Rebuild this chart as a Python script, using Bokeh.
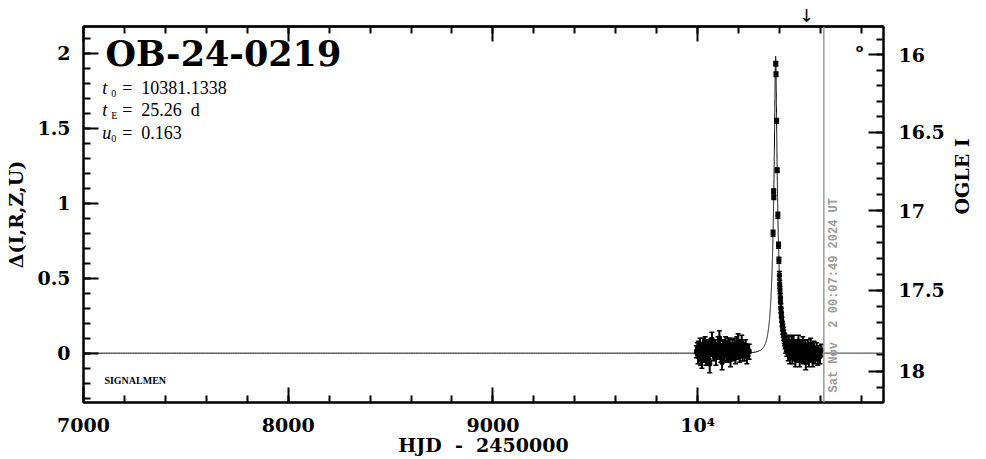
import numpy as np
from bokeh.plotting import figure
from bokeh.models import (Range1d, LinearAxis, FixedTicker, Label, Span,
                          ColumnDataSource, Whisker, TeeHead)
from bokeh.embed import file_html
from bokeh.resources import INLINE

# ---------------- event parameters / annotations ----------------
event_name = "OB-24-0219"
t0 = 10381.1338
tE = 25.26
u0 = 0.163
now_hjd = 10616.505
now_text = "Sat Nov\u00a0\u00a02 00:07:49 2024 UT"
arrow_hjd = 10532.0

# ---------------- tick labels ----------------
x_major = [7000, 8000, 9000, 10000]
x_major_labels = ["7000", "8000", "9000", "10\u2074"]
y_major = [0, 0.5, 1, 1.5, 2]
y_major_labels = ["0", "0.5", "1", "1.5", "2"]
mag_major = [16, 16.5, 17, 17.5, 18]
mag_major_labels = ["16", "16.5", "17", "17.5", "18"]

# ---------------- photometry (HJD-2450000, delta, error) ----------------
t_2023 = [9994.8, 9998.7, 10001.9, 10004.6, 10008.8, 10011.7, 10014.5, 10017.9, 10021.0, 10023.6,
          10026.8, 10030.9, 10033.5, 10036.7, 10040.6, 10043.8, 10046.5, 10049.9, 10053.6, 10056.4,
          10059.2, 10062.8, 10066.5, 10069.9, 10072.7, 10076.4, 10079.8, 10083.5, 10086.6, 10089.4,
          10092.8, 10096.7, 10099.5, 10103.6, 10106.4, 10109.8, 10113.5, 10116.7, 10119.4, 10122.9,
          10126.6, 10129.8, 10133.5, 10136.4, 10139.9, 10143.6, 10146.5, 10149.8, 10153.4, 10156.7,
          10160.6, 10163.5, 10166.9, 10170.4, 10173.8, 10177.5, 10180.6, 10184.9, 10188.5, 10191.7,
          10195.6, 10197.4, 10201.8, 10205.5, 10209.7, 10213.6, 10215.4, 10219.8, 10224.5, 10229.6,
          10234.8, 10240.5, 10246.7, 10251.9]
d_2023 = [0.01, 0.03, -0.02, 0.04, 0.00, 0.05, -0.04, 0.02, -0.05, 0.03,
          0.06, -0.01, 0.02, 0.07, -0.03, 0.01, 0.04, -0.02, 0.05, 0.00,
          -0.07, 0.03, 0.06, 0.09, 0.02, -0.01, 0.04, 0.01, 0.05, -0.03,
          0.03, 0.00, 0.06, 0.02, 0.10, 0.04, -0.02, 0.01, -0.06, 0.05,
          0.02, -0.01, 0.04, 0.07, 0.00, 0.03, -0.02, 0.05, 0.01, 0.06,
          -0.04, 0.02, 0.00, 0.04, -0.01, 0.03, 0.05, -0.03, 0.02, 0.06,
          0.00, 0.08, 0.03, -0.02, 0.04, 0.01, 0.07, -0.01, 0.03, 0.00,
          0.05, -0.02, 0.02, 0.01]
e_2023 = [0.04, 0.04, 0.05, 0.04, 0.04, 0.05, 0.04, 0.04, 0.05, 0.04,
          0.04, 0.05, 0.04, 0.04, 0.05, 0.04, 0.04, 0.05, 0.04, 0.04,
          0.06, 0.04, 0.04, 0.05, 0.04, 0.04, 0.05, 0.04, 0.04, 0.05,
          0.04, 0.04, 0.05, 0.04, 0.05, 0.04, 0.04, 0.05, 0.05, 0.04,
          0.04, 0.05, 0.04, 0.04, 0.05, 0.04, 0.04, 0.05, 0.04, 0.04,
          0.05, 0.04, 0.04, 0.05, 0.04, 0.04, 0.05, 0.04, 0.04, 0.05,
          0.04, 0.05, 0.04, 0.04, 0.05, 0.04, 0.05, 0.04, 0.04, 0.05,
          0.04, 0.05, 0.04, 0.05]

t_2024_peak = [10368.5, 10371.6, 10372.2, 10381.9, 10383.0, 10385.8, 10388.6, 10392.0, 10395.1, 10397.1,
               10399.4, 10401.2, 10402.3, 10404.0, 10405.2, 10406.8, 10408.4, 10410.0, 10412.1, 10414.0,
               10416.2, 10418.3, 10420.8, 10423.0, 10425.5]
d_2024_peak = [0.80, 1.08, 1.04, 1.93, 1.86, 1.55, 1.22, 0.92, 0.72, 0.62,
               0.52, 0.46, 0.42, 0.37, 0.34, 0.30, 0.27, 0.24, 0.21, 0.18,
               0.16, 0.14, 0.12, 0.10, 0.09]
e_2024_peak = [0.02, 0.015, 0.015, 0.015, 0.015, 0.015, 0.015, 0.02, 0.02, 0.02,
               0.025, 0.025, 0.025, 0.03, 0.03, 0.03, 0.03, 0.03, 0.03, 0.03,
               0.035, 0.035, 0.035, 0.035, 0.04]

t_2024_base = [10427.8, 10430.6, 10432.9, 10435.7, 10438.5, 10441.8, 10444.6, 10447.4, 10450.8, 10453.5,
               10456.7, 10459.6, 10462.5, 10465.8, 10468.4, 10471.7, 10474.5, 10477.6, 10480.4, 10483.8,
               10486.5, 10489.7, 10492.4, 10495.6, 10498.5, 10501.7, 10504.4, 10507.6, 10510.5, 10513.7,
               10516.4, 10519.6, 10522.5, 10525.7, 10528.4, 10531.6, 10534.5, 10537.7, 10540.4, 10543.6,
               10546.5, 10549.7, 10552.4, 10555.6, 10558.5, 10561.7, 10564.4, 10568.6, 10572.5, 10576.7,
               10581.4, 10586.6, 10591.5, 10597.7, 10604.6]
d_2024_base = [0.07, 0.04, 0.06, 0.02, 0.05, 0.00, 0.08, 0.03, -0.02, 0.05,
               0.01, 0.06, -0.03, 0.03, 0.07, 0.00, 0.04, -0.04, 0.02, 0.05,
               -0.01, 0.03, 0.08, 0.00, -0.05, 0.02, 0.04, -0.02, 0.01, 0.06,
               -0.03, 0.03, 0.00, 0.05, -0.06, 0.02, -0.01, 0.04, 0.01, -0.04,
               0.03, 0.00, 0.06, -0.02, 0.02, -0.05, 0.01, 0.03, -0.03, 0.00,
               0.02, -0.04, 0.01, -0.02, 0.02]
e_2024_base = [0.04, 0.04, 0.05, 0.04, 0.04, 0.05, 0.04, 0.04, 0.05, 0.04,
               0.04, 0.05, 0.04, 0.04, 0.05, 0.04, 0.04, 0.05, 0.04, 0.04,
               0.05, 0.04, 0.04, 0.05, 0.04, 0.04, 0.05, 0.04, 0.04, 0.05,
               0.04, 0.04, 0.05, 0.04, 0.05, 0.04, 0.04, 0.05, 0.04, 0.05,
               0.04, 0.05, 0.04, 0.04, 0.05, 0.04, 0.04, 0.05, 0.04, 0.04,
               0.05, 0.04, 0.04, 0.05, 0.04]

t_all = np.array(t_2023 + t_2024_peak + t_2024_base)
d_all = np.array(d_2023 + d_2024_peak + d_2024_base)
e_all = np.array(e_2023 + e_2024_peak + e_2024_base)
assert len(t_all) == len(d_all) == len(e_all)

# ---------------- point-lens model from the fitted parameters ----------------
t_model = np.concatenate([np.linspace(7000, 10300, 400),
                          np.linspace(10300, 10470, 3000),
                          np.linspace(10470, 10908, 300)])
uu = np.sqrt(u0 ** 2 + ((t_model - t0) / tE) ** 2)
A = (uu ** 2 + 2) / (uu * np.sqrt(uu ** 2 + 4))
d_model = 2.5 * np.log10(A)


def mag_to_delta(m):
    # position of an OGLE I magnitude on the delta scale
    return 1.989 - 1.0215 * (m - 16) - 0.0165 * (m - 16) ** 2


# ---------------- figure ----------------
XMIN, XMAX = 7000, 10908
YMIN, YMAX = -0.329, 2.178

p = figure(width=986, height=459, output_backend="svg", toolbar_location=None,
           x_range=Range1d(XMIN, XMAX), y_range=Range1d(YMIN, YMAX),
           min_border_left=83, min_border_right=103, min_border_top=26, min_border_bottom=57)
p.grid.visible = False
p.outline_line_color = "black"
p.outline_line_width = 2
p.background_fill_color = "white"
p.border_fill_color = "white"

TICK_FONT = "DejaVu Serif"


def style_axis(ax, standoff=12):
    ax.axis_line_width = 2
    ax.axis_line_color = "black"
    ax.major_tick_in = 15
    ax.major_tick_out = 0
    ax.minor_tick_in = 7
    ax.minor_tick_out = 0
    ax.major_tick_line_width = 2
    ax.minor_tick_line_width = 2
    ax.major_tick_line_color = "black"
    ax.minor_tick_line_color = "black"
    ax.major_label_text_font = TICK_FONT
    ax.major_label_text_font_style = "bold"
    ax.major_label_text_color = "black"
    ax.major_label_text_font_size = "19px"
    ax.major_label_standoff = standoff
    ax.axis_label_text_font = TICK_FONT
    ax.axis_label_text_font_style = "bold"
    ax.axis_label_text_color = "black"
    ax.axis_label_text_font_size = "19px"


x_minor = [float(v) for v in np.arange(7000, 10901, 200)]
y_minor = [round(float(v), 2) for v in np.arange(-0.3, 2.15, 0.1)]

# bottom axis
xb = p.xaxis[0]
xb.ticker = FixedTicker(ticks=x_major, minor_ticks=x_minor)
xb.major_label_overrides = {k: v for k, v in zip(x_major, x_major_labels)}
style_axis(xb, 11)
xb.axis_label = "HJD\u00a0\u00a0-\u00a0\u00a02450000"
xb.axis_label_standoff = -5

# left axis
yl = p.yaxis[0]
yl.ticker = FixedTicker(ticks=y_major, minor_ticks=y_minor)
yl.major_label_overrides = {k: v for k, v in zip(y_major, y_major_labels)}
style_axis(yl, 13)
yl.axis_label = "\u0394(I,R,Z,U)"
yl.axis_label_standoff = 7

# top: short ticks only (no labels)
xt_minor = LinearAxis(ticker=FixedTicker(ticks=[], minor_ticks=x_minor))
style_axis(xt_minor, 0)
p.add_layout(xt_minor, "above")

# top: long ticks at the major positions, plus the arrow marker as the only label
xt_arrow = LinearAxis(ticker=FixedTicker(ticks=[arrow_hjd], minor_ticks=[float(v) for v in x_major]))
style_axis(xt_arrow, 1)
xt_arrow.major_tick_in = 0
xt_arrow.minor_tick_in = 15
xt_arrow.major_label_overrides = {arrow_hjd: "\u2193"}
xt_arrow.major_label_text_font = "DejaVu Sans"
xt_arrow.major_label_text_font_style = "normal"
xt_arrow.major_label_text_font_size = "18px"
p.add_layout(xt_arrow, "above")

# right axis: OGLE I magnitude
mag_pos = [round(mag_to_delta(m), 5) for m in mag_major]
mag_minor = [round(mag_to_delta(round(m, 1)), 5) for m in np.arange(15.8, 18.25, 0.1)]
yr = LinearAxis(ticker=FixedTicker(ticks=mag_pos, minor_ticks=mag_minor))
yr.major_label_overrides = {k: v for k, v in zip(mag_pos, mag_major_labels)}
style_axis(yr, 15)
yr.axis_label = "OGLE I"
yr.axis_label_standoff = 14
yr.axis_label_orientation = np.pi / 2
p.add_layout(yr, "right")

# ---------------- glyphs ----------------
p.line(t_model, d_model, line_color="black", line_width=1)

src = ColumnDataSource(dict(t=t_all, d=d_all, lo=d_all - e_all, hi=d_all + e_all))
p.add_layout(Whisker(source=src, base="t", lower="lo", upper="hi",
                     line_color="black", line_width=2,
                     upper_head=TeeHead(size=5, line_width=1.5, line_color="black"),
                     lower_head=TeeHead(size=5, line_width=1.5, line_color="black")))
p.scatter("t", "d", source=src, marker="square", size=4, color="black")

p.add_layout(Span(location=now_hjd, dimension="height", line_color="#9a9a9a", line_width=1.5))

# ---------------- texts ----------------
p.add_layout(Label(x=now_hjd, y=-0.262, text=now_text, angle=np.pi / 2,
                   text_align="left", text_baseline="top", x_offset=3,
                   text_font="Liberation Mono", text_font_style="bold",
                   text_font_size="12px", text_color="#9a9a9a"))

p.add_layout(Label(x=7107, y=1.995, text=event_name, text_font="DejaVu Serif",
                   text_font_style="bold", text_font_size="35px", text_color="black",
                   text_align="left", text_baseline="middle"))

PFONT = "Liberation Serif"
param_rows = [("t", "0", "=\u00a0\u00a010381.1338", 1.765),
              ("t", "E", "=\u00a0\u00a025.26\u00a0\u00a0d", 1.618),
              ("u", "0", "=\u00a0\u00a00.163", 1.465)]
for sym, sub, rest, yy in param_rows:
    p.add_layout(Label(x=7091, y=yy, text=sym, text_font=PFONT, text_font_style="italic",
                       text_font_size="18px", text_align="left", text_baseline="middle",
                       text_color="black"))
    p.add_layout(Label(x=7091, y=yy, x_offset=9, y_offset=-5, text=sub, text_font=PFONT,
                       text_font_size="10px", text_align="left", text_baseline="middle",
                       text_color="black"))
    p.add_layout(Label(x=7091, y=yy, x_offset=20, text=rest, text_font=PFONT,
                       text_font_size="18px", text_align="left", text_baseline="middle",
                       text_color="black"))

p.add_layout(Label(x=7102, y=-0.182, text="SIGNALMEN", text_font=PFONT,
                   text_font_style="bold", text_font_size="10px", text_color="black",
                   text_align="left", text_baseline="middle"))

p.add_layout(Label(x=10791, y=2.031, text="o", text_font="DejaVu Sans",
                   text_font_style="bold", text_font_size="11px", text_color="black",
                   text_align="center", text_baseline="middle"))

open("out.html", "w").write(file_html(p, INLINE))
